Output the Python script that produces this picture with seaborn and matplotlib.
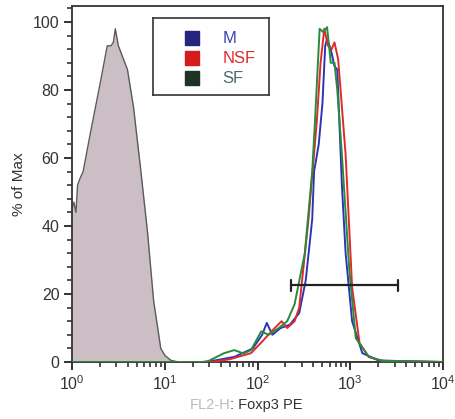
import numpy as np
import pandas as pd
import matplotlib
matplotlib.use("Agg")
import matplotlib.pyplot as plt
import seaborn as sns
from matplotlib.ticker import LogLocator, FixedLocator, MultipleLocator, NullFormatter
from matplotlib.patches import Rectangle

# ---- data (x as log10 of fluorescence, y as % of Max) ----
iso_log = [0.0, 0.02, 0.043, 0.06, 0.087, 0.12, 0.196, 0.304, 0.38, 0.42, 0.446, 0.467,
           0.5, 0.598, 0.663, 0.739, 0.815, 0.88, 0.957, 1.0, 1.065, 1.15, 4.0]
iso_val = [45, 47, 44, 52, 54, 56, 67, 82, 93, 93, 94, 98,
           93, 86, 75, 57, 38, 18, 4, 2, 0.5, 0, 0]

m_log = [0.0, 1.4, 1.55, 1.75, 1.95, 2.05, 2.1, 2.16, 2.25, 2.35, 2.45, 2.52, 2.59, 2.61,
         2.66, 2.70, 2.73, 2.75, 2.79, 2.83, 2.86, 2.91, 2.95, 3.02, 3.13, 3.3, 3.5, 4.0]
m_val = [0, 0, 0.5, 1.5, 4, 8, 11.5, 8, 10, 11, 14.4, 24, 42, 56,
         64, 76, 93, 95, 92, 87, 86, 52, 32, 12, 2.6, 0.5, 0.3, 0]

nsf_log = [0.0, 1.5, 1.7, 1.93, 2.05, 2.15, 2.26, 2.32, 2.4, 2.45, 2.55, 2.6, 2.64, 2.68,
           2.72, 2.76, 2.80, 2.83, 2.87, 2.95, 3.02, 3.1, 3.2, 3.35, 4.0]
nsf_val = [0, 0, 0.8, 2.6, 6, 9, 12, 10, 12, 16, 42, 58, 71, 88,
           98, 93, 92, 94, 89, 61, 22, 5.6, 1.5, 0.3, 0]

sf_log = [0.0, 1.45, 1.64, 1.75, 1.85, 1.93, 2.04, 2.12, 2.23, 2.32, 2.4, 2.51, 2.59, 2.62,
          2.67, 2.71, 2.75, 2.79, 2.83, 2.86, 2.91, 2.99, 3.06, 3.2, 3.35, 4.0]
sf_val = [0, 0, 2.6, 3.5, 2.5, 3.5, 9, 8, 10, 12, 17, 32, 56, 71,
          98, 97, 98.5, 88, 88, 80, 61, 27, 7, 1.5, 0.3, 0]

series_names = ["M", "NSF", "SF"]
series_colors = ["#2a36b4", "#e02a2a", "#2a8a3c"]
legend_swatch = ["#25257f", "#d41c1c", "#1e3326"]
legend_text_col = ["#3a44b0", "#e02a2a", "#4d6b6b"]

gate_lo, gate_hi, gate_y = 229, 3250, 22.6

frames = []
for name, lx, vy in zip(series_names, [m_log, nsf_log, sf_log], [m_val, nsf_val, sf_val]):
    frames.append(pd.DataFrame({"x": 10 ** np.asarray(lx), "y": vy, "sample": name}))
df = pd.concat(frames, ignore_index=True)

# ---- plot ----
sns.set_theme(style="white")
plt.rcParams["font.family"] = ["Liberation Sans", "DejaVu Sans"]
plt.rcParams["mathtext.fontset"] = "custom"
plt.rcParams["mathtext.rm"] = "Liberation Sans"
plt.rcParams["mathtext.default"] = "regular"

fig = plt.figure(figsize=(4.56, 4.19), dpi=100)
ax = fig.add_axes([72 / 456, 1 - 362 / 419, (443 - 72) / 456, (362 - 6) / 419])

ax.set_xscale("log")
ax.fill_between(10 ** np.asarray(iso_log), iso_val, 0, color="#cbbfc5", lw=0, zorder=1)
ax.plot(10 ** np.asarray(iso_log), iso_val, color="#5a5a5a", lw=1.0, zorder=2)

sns.lineplot(data=df, x="x", y="y", hue="sample", palette=dict(zip(series_names, series_colors)),
             hue_order=["M", "NSF", "SF"], sort=False, estimator=None, lw=1.4, ax=ax,
             legend=False, zorder=3)

# gate bar
ax.plot([gate_lo, gate_hi], [gate_y, gate_y], color="#222222", lw=1.6, zorder=4)
for gx in (gate_lo, gate_hi):
    ax.plot([gx, gx], [gate_y - 1.6, gate_y + 1.6], color="#222222", lw=1.6, zorder=4)

ax.set_xlim(1, 1e4)
ax.set_ylim(0, 104.7)

ax.xaxis.set_major_locator(FixedLocator([1, 10, 100, 1000, 10000]))
ax.set_xticklabels([r"$10^{0}$", r"$10^{1}$", r"$10^{2}$", r"$10^{3}$", r"$10^{4}$"])
ax.xaxis.set_minor_locator(LogLocator(base=10, subs=np.arange(2, 10), numticks=20))
ax.xaxis.set_minor_formatter(NullFormatter())
ax.yaxis.set_major_locator(MultipleLocator(20))
ax.yaxis.set_minor_locator(MultipleLocator(4))

ax.tick_params(axis="both", which="major", direction="out", length=6, width=1.3,
               color="#222222", labelsize=11.5, labelcolor="#333333", pad=3,
               bottom=True, left=True)
ax.tick_params(axis="both", which="minor", direction="out", length=3.5, width=1.1,
               color="#222222", bottom=True, left=True)

for s in ax.spines.values():
    s.set_color("#333333")
    s.set_linewidth(1.3)

ax.set_ylabel("% of Max", fontsize=11, color="#333333", labelpad=5)
ax.set_xlabel("")
fig.text(0.505, 1 - 405 / 419, "FL2-H", ha="right", va="center", fontsize=10.5, color="#bbbbbb")
fig.text(0.505, 1 - 405 / 419, ": Foxp3 PE", ha="left", va="center", fontsize=10.5, color="#333333")

# legend box
lg = fig.add_axes([153 / 456, 1 - 95 / 419, (269 - 153) / 456, (95 - 18) / 419])
lg.set_xlim(0, 1)
lg.set_ylim(0, 1)
lg.set_xticks([])
lg.set_yticks([])
for s in lg.spines.values():
    s.set_color("#333333")
    s.set_linewidth(1.2)
ys = [0.74, 0.48, 0.22]
for y, sc, tc, nm in zip(ys, legend_swatch, legend_text_col, series_names):
    lg.add_patch(Rectangle((0.28, y - 0.09), 0.12, 0.18, color=sc))
    lg.text(0.6, y, nm, color=tc, fontsize=12, va="center", ha="left")

fig.savefig("out.png", dpi=100)
